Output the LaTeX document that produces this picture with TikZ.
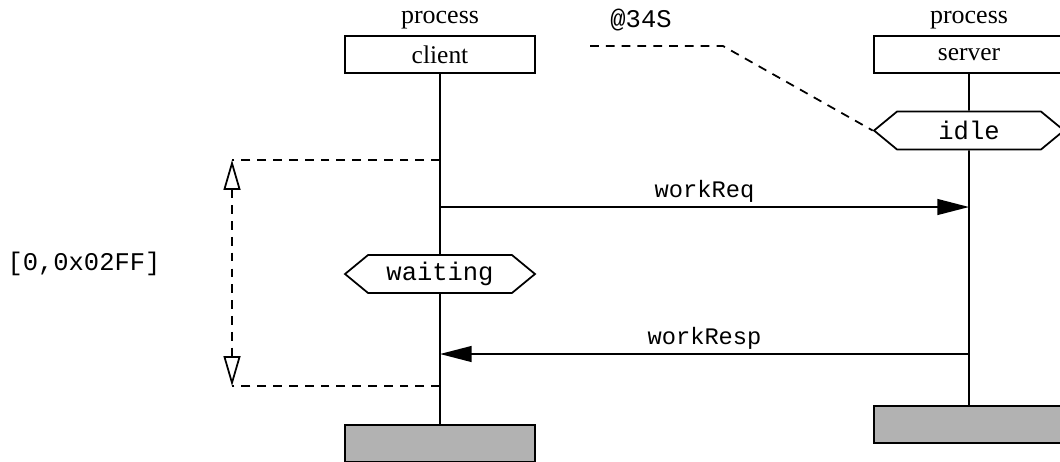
\documentclass[tikz,border=0pt]{standalone}
\usepackage{fontspec}
\setmainfont{Liberation Serif}
\setmonofont{Liberation Mono}
\usetikzlibrary{positioning,arrows.meta,shapes.symbols}

\begin{document}
\begin{tikzpicture}[
    x=0.02cm, y=-0.02cm,
    line width=1pt,
    node distance=0.7mm,
    procbox/.style={rectangle, draw, minimum width=3.8cm, minimum height=0.74cm, inner sep=0pt, font=\fontsize{14.5}{16}\selectfont},
    kind/.style={inner sep=1pt, font=\fontsize{14.8}{16}\selectfont},
    stopbox/.style={rectangle, draw, fill=black!30, minimum width=3.8cm, minimum height=0.74cm},
    state/.style={signal, signal to=west and east, signal pointer angle=79, draw, fill=white, minimum width=3.8cm, minimum height=0.76cm, inner sep=0pt, font=\ttfamily\fontsize{14.5}{16}\selectfont},
    msg/.style={-{Triangle[length=18pt,width=9pt]}},
    msglabel/.style={above=1pt, inner sep=1pt, font=\ttfamily\fontsize{13.5}{15}\selectfont},
    dashline/.style={dash pattern=on 5pt off 4pt},
    bound/.style={dashline, {Triangle[open,length=17pt,width=9.6pt]}-{Triangle[open,length=17pt,width=9.6pt]}}
  ]
    \clip (0,0) rectangle (1060,461);

    % Process heads
    \node (client) [procbox] at (440,54.5) {client};
    \node (clientkind) [kind, above=of client] {process};
    \node (server) [procbox] at (969,54.5) {server};
    \node (serverkind) [kind, above=of server] {process};

    % States
    \node (idle) [state] at (969,130.5) {idle};
    \node (waiting) [state] at (440,274) {waiting};

    % Stops
    \node (clientstop) [stopbox] at (440,443.5) {};
    \node (serverstop) [stopbox] at (969,424.5) {};

    % Lifelines
    \draw (client) -- (waiting);
    \draw (waiting) -- (clientstop);
    \draw (server) -- (idle);
    \draw (idle) -- (serverstop);

    % Messages
    \coordinate (reqC) at (440,207);
    \coordinate (reqS) at (969,207);
    \coordinate (respC) at (440,354);
    \coordinate (respS) at (969,354);
    \draw [msg] (reqC) -- node [msglabel] {workReq} (reqS);
    \draw [msg] (respS) -- node [msglabel] {workResp} (respC);

    % Timer bound
    \coordinate (tTop) at (440,160);
    \coordinate (tBot) at (440,386);
    \coordinate (bTop) at (232,160);
    \coordinate (bBot) at (232,386);
    \draw [dashline] (tTop) -- (bTop);
    \draw [dashline] (tBot) -- (bBot);
    \draw [bound] (bTop) -- (bBot);
    \node (range) [font=\ttfamily\fontsize{14.5}{16}\selectfont] at (84,264) {[0,0x02FF]};

    % Time note
    \node (note) [font=\ttfamily\fontsize{14.5}{16}\selectfont] at (641,20) {@34S};
    \coordinate (noteA) at (590,46);
    \coordinate (noteB) at (723,46);
    \draw [dashline] (noteA) -- (noteB) -- (idle.west);
\end{tikzpicture}
\end{document}
